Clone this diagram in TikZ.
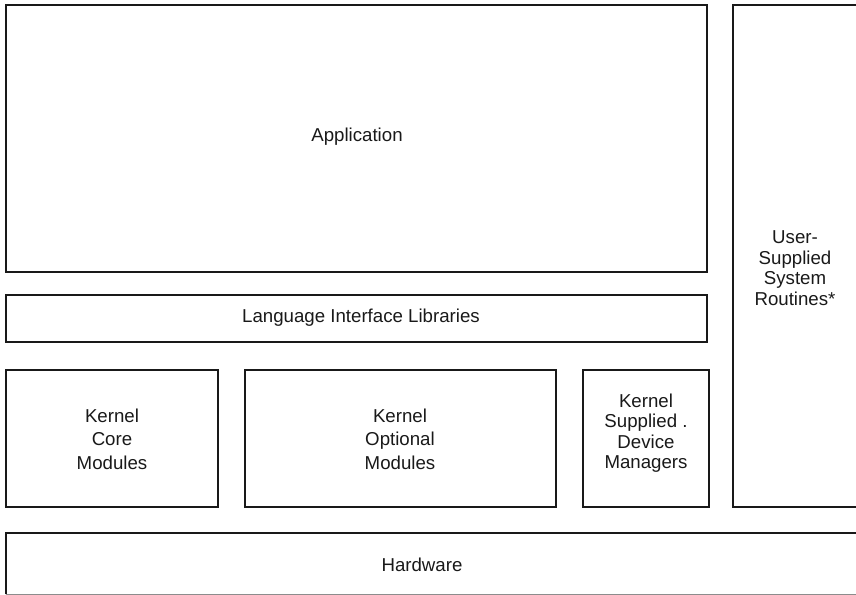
\documentclass[tikz,border=0pt]{standalone}
\usepackage{fontspec}
\setmainfont{Liberation Sans}
\usetikzlibrary{fit}
\begin{document}
\begin{tikzpicture}[x=0.75pt,y=-0.75pt,
  box/.style={draw=black!90,line width=1.3pt,inner sep=0pt},
  lbl/.style={font=\fontsize{14pt}{15.4pt}\selectfont,align=center,inner sep=0pt,text=black!90},
  lblwide/.style={lbl,font=\fontsize{14pt}{17.6pt}\selectfont}]
\useasboundingbox (0,0) rectangle (856,595);
\clip (0,0) rectangle (856,595);
\node[box,fit={(6,5) (707,272)}] (app) {};
\node[box,fit={(733,5) (870,507)}] (user) {};
\node[box,fit={(6,295) (707,342)}] (lang) {};
\node[box,fit={(6,370) (218,507)}] (core) {};
\node[box,fit={(245,370) (556,507)}] (opt) {};
\node[box,fit={(583,370) (709,507)}] (dev) {};
\node[fit={(6,533) (870,594)},inner sep=0pt] (hw) {};
\draw[draw=black!90,line width=1.3pt] (hw.south west) -- (hw.north west) -- (hw.north east);
\draw[draw=black!45,line width=1pt] (hw.south west) -- (hw.south east);
\node[lbl] (tapp) at (357,137) {Application};
\node[lbl] (tlang) at (361,318) {Language Interface Libraries};
\node[lbl] (tuser) at (795,268) {User-\\Supplied\\System\\Routines*};
\node[lblwide] (tcore) at (112,439) {Kernel\\Core\\Modules};
\node[lblwide] (topt) at (400,439) {Kernel\\Optional\\Modules};
\node[lbl] (tdev) at (646,433) {Kernel\\Supplied .\\Device\\Managers};
\node[lbl] (thw) at (422,565) {Hardware};
\end{tikzpicture}
\end{document}
